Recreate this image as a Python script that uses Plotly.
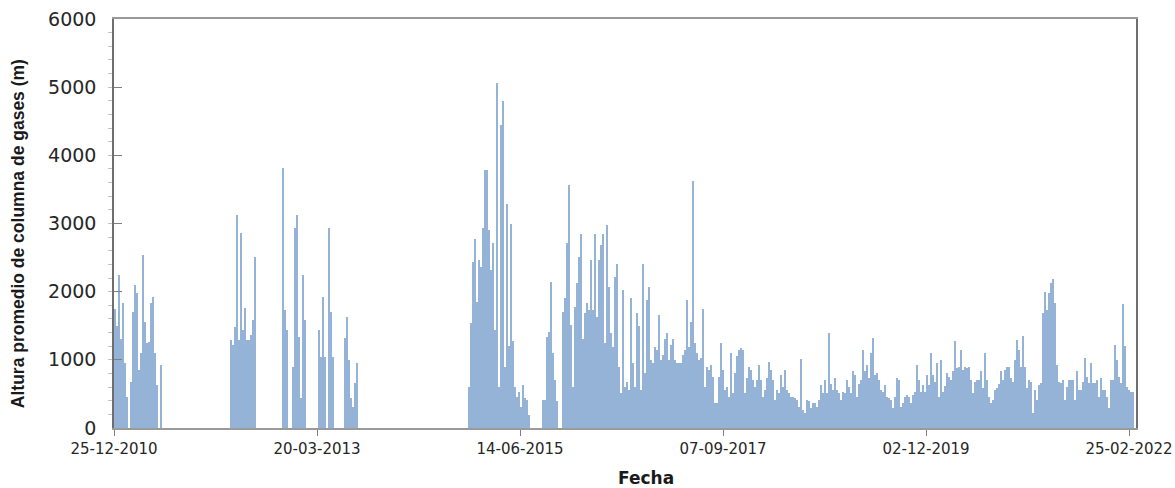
import pandas as pd
import plotly.graph_objects as go

# ---- data (one value per ~8-day bin) ----
start_date = "2010-12-25"
step_days = 8.04

tick_dates = ["2010-12-25", "2013-03-20", "2015-06-14", "2017-09-07", "2019-12-02", "2022-02-25"]
tick_labels = ["25-12-2010", "20-03-2013", "14-06-2015", "07-09-2017", "02-12-2019", "25-02-2022"]

alt_2010_2013 = [
    1750, 1500, 2240, 1300, 1830, 950, 460, 0, 680, 1700, 2100, 1980, 850, 1100, 2540, 1560,
    1250, 1260, 1830, 1925, 1100, 630, 0, 920,
    0, 0, 0, 0, 0, 0, 0, 0, 0, 0, 0, 0, 0, 0, 0, 0, 0,
    0, 0, 0, 0, 0, 0, 0, 0, 0, 0, 0, 0, 0, 0, 0, 0, 0,
    1290, 1220, 1485, 3120, 1290, 2865, 1440, 1760, 1290, 1290, 1370, 1580, 2510,
    0, 0, 0, 0, 0, 0, 0, 0, 0, 0, 0, 0, 0,
    3810, 1730, 1440,
    0, 0,
    900, 2930, 3120, 1340, 440, 2240, 1580,
    0, 0, 0, 0, 0, 0,
]

alt_2013_2015 = [
    1440, 1045, 1925, 1045, 0, 2940, 1700, 1045,
    0, 0, 0, 0, 0,
    1315, 1630, 1000, 440, 310, 660, 950,
    0, 0, 0, 0, 0, 0, 0, 0, 0, 0, 0, 0, 0, 0, 0, 0, 0, 0, 0, 0, 0, 0, 0, 0, 0, 0, 0, 0,
    0, 0, 0, 0, 0, 0, 0, 0, 0, 0, 0, 0, 0, 0, 0, 0, 0, 0, 0, 0, 0, 0, 0, 0, 0, 0, 0,
    600,
    1540, 2440, 2780, 1850, 2460, 2365, 2930, 3780, 3780, 2900, 2320, 2710, 1440, 5060,
    600, 4440, 4800, 900, 3290, 1200, 3000, 1270, 600, 460, 530, 310,
]

alt_2015_2017 = [
    630, 435, 410, 190,
    0, 0, 0, 0, 0, 0,
    410, 410,
    1340, 1410, 2145, 1095, 700,
    400,
    0, 0,
    1700, 1900, 2710, 3560, 1510, 600, 1780, 2120, 2510, 2850,
    1300, 1680, 1830, 1730, 2460, 1730, 2850, 1630, 2460, 2680,
    2850, 1240, 2980, 2070, 1390, 1190, 2220, 2410, 900, 510,
    2020, 600, 680, 560, 1900, 950, 600, 1680, 1490, 560,
    2410, 800, 1880, 2070, 1000, 950, 1190, 1140, 1660, 1000,
    1070, 1310, 1390, 1000, 1220, 1310, 1000, 950, 950, 950,
    1070, 1140, 1880, 1190,
    1560, 3630, 1240, 1100, 1000, 1020, 1740, 600, 900, 850,
    920, 750, 360, 360, 750, 1240, 850, 560,
]

alt_2017_2019 = [
    600, 460, 1100, 510, 800, 1050, 1140, 1170, 1140, 510,
    730, 900, 850, 700, 600, 700, 920, 700, 460, 560,
    730, 970, 850, 700, 410, 560, 510, 780, 600, 850,
    560, 510, 460, 460, 435, 410, 310, 1010, 260, 215,
    410, 390, 290, 360, 360, 310, 410, 630, 510, 700,
    510, 1390, 650, 560, 730, 560, 510, 410, 530, 510,
    700, 600,
    510, 830, 780, 460, 650, 700, 1140, 830, 920, 730,
    1095, 1325, 780, 800, 700, 560, 530, 630, 460, 435,
    410, 300, 460, 730, 700, 310, 360, 460, 480, 460,
    360, 480, 530, 920, 700, 530, 630, 530, 780, 630,
]

alt_2019_2022 = [
    1100, 780, 680, 950, 460, 1000, 530, 610, 800, 750,
    700, 830, 1270, 875, 900, 1140, 850, 900, 875, 900,
    700, 510, 680, 700, 700, 830, 580, 1095, 700, 460,
    360, 410, 560, 580, 650, 830, 700, 850, 900,
    900, 730, 680, 1000, 1290, 1145, 900, 1350, 900, 580,
    700, 680, 215, 560, 410, 630, 655, 1680, 2000, 1730,
    1975, 2120, 2180, 1830, 925, 680, 655, 700, 410, 605,
    700, 700, 700, 410, 840, 560, 560, 680, 1020, 750,
    655, 950, 655, 655, 700, 460, 730, 560, 560, 460,
    290, 700, 700, 1220, 1000, 750, 655, 1820, 1200, 605,
    560, 530, 530,
]

values = alt_2010_2013 + alt_2013_2015 + alt_2015_2017 + alt_2017_2019 + alt_2019_2022

t0 = pd.Timestamp(start_date)
dates = [(t0 + pd.Timedelta(days=(k + 0.5) * step_days)).isoformat() for k in range(len(values))]

fig = go.Figure()
fig.add_trace(go.Bar(
    x=dates, y=values,
    width=step_days * 86400000,
    marker=dict(color="#95B3D7", line=dict(width=0)),
    hoverinfo="x+y",
))

fig.update_layout(
    width=1175, height=488,
    margin=dict(l=114, r=39, t=19, b=60, autoexpand=False),
    paper_bgcolor="white", plot_bgcolor="white",
    bargap=0, showlegend=False,
    font=dict(family="DejaVu Sans", color="#262626"),
)

fig.update_xaxes(
    type="date", automargin=False,
    range=["2010-12-25", "2022-03-25"],
    tickmode="array", tickvals=tick_dates, ticktext=tick_labels,
    ticks="outside", ticklen=6, tickcolor="#808080", tickwidth=1,
    tickfont=dict(family="DejaVu Sans", size=15, color="#262626"),
    showgrid=False, zeroline=False,
    showline=True, linecolor="#9a9a9a", linewidth=1.5, mirror=True,
)

fig.update_yaxes(
    range=[0, 6000], dtick=1000, tick0=0, automargin=False,
    ticks="inside", ticklen=8, tickcolor="#808080", tickwidth=1,
    ticklabelstandoff=12,
    tickfont=dict(family="DejaVu Sans", size=19, color="#262626"),
    minor=dict(dtick=200, ticks="outside", ticklen=4, tickcolor="#c0c0c0", showgrid=False),
    showgrid=False, zeroline=False,
    showline=True, linecolor="#6e6e6e", linewidth=1.5, mirror=True,
)

fig.add_annotation(
    text="Altura promedio de columna de gases (m)",
    xref="paper", yref="paper", x=-0.0939, y=0.474,
    textangle=-90, showarrow=False, xanchor="center", yanchor="middle",
    font=dict(family="Liberation Sans", size=17.5, color="#1a1a1a", weight="bold"),
)
fig.add_annotation(
    text="<b>Fecha</b>",
    xref="paper", yref="paper", x=0.5205, y=-0.122,
    showarrow=False, xanchor="center", yanchor="middle",
    font=dict(family="DejaVu Sans", size=17, color="#1a1a1a"),
)

fig.write_html("out.html")
